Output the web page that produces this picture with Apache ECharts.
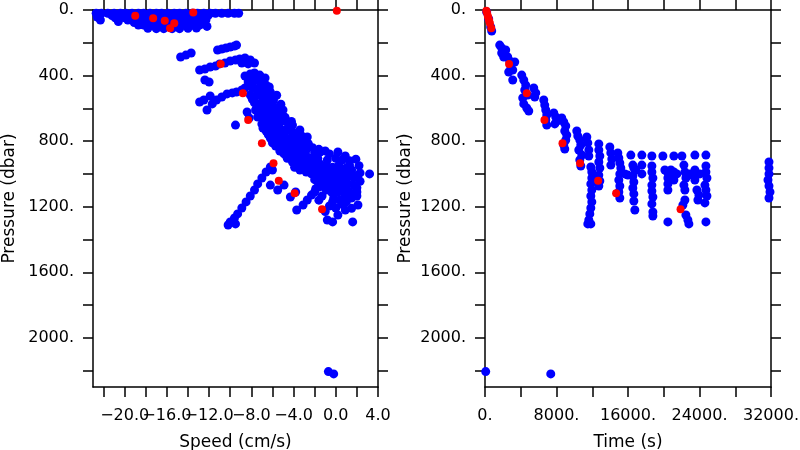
<!DOCTYPE html>
<html>
<head>
<meta charset="utf-8">
<script src="https://cdn.jsdelivr.net/npm/echarts@6/dist/echarts.min.js"></script>
<style>
html,body{margin:0;padding:0;background:#fff;}
#chart{width:800px;height:450px;}
</style>
</head>
<body>
<div id="chart"></div>
<script>
// ---------- tick / label values ----------
const speedTicks = [-22,-20,-18,-16,-14,-12,-10,-8,-6,-4,-2,0,2,4];
const speedLabels = [-20,-16,-12,-8,-4,0,4];
const pressureTicks = [0,200,400,600,800,1000,1200,1400,1600,1800,2000,2200];
const pressureLabels = [0,400,800,1200,1600,2000];
const timeTicks = [0,4000,8000,12000,16000,20000,24000,28000,32000];
const timeLabels = [0,8000,16000,24000,32000];

// ---------- left panel: [speed (cm/s), pressure (dbar)] ----------
const blueSpeedPressure = [
  // near-surface band
  [-22.7,20],[-22.2,20],[-21.6,20],[-21.0,20],[-20.4,20],[-19.9,20],[-19.3,20],[-18.7,20],[-18.2,20],[-17.6,20],
  [-17.0,20],[-16.5,20],[-15.9,20],[-15.3,20],[-14.8,20],[-14.2,20],[-13.6,20],[-13.1,20],[-12.5,20],[-11.9,20],
  [-11.4,20],[-10.8,20],[-10.2,20],[-9.6,20],[-9.2,20],
  [-21.2,34],[-20.6,34],[-20.1,34],[-19.5,34],[-18.9,34],[-18.4,34],[-17.8,34],[-17.2,34],[-16.7,34],[-16.1,34],
  [-15.5,34],[-15.0,34],[-14.4,34],[-13.8,34],[-13.2,34],[-12.7,34],[-12.1,34],
  [-20.9,47],[-20.0,47],[-19.2,47],[-18.5,47],[-17.7,47],[-16.9,47],[-16.0,47],[-15.2,47],[-14.4,47],[-13.6,47],[-12.8,47],
  [-22.3,61],[-20.6,70],[-19.7,61],[-19.1,61],[-18.6,61],[-18.0,61],[-17.4,61],[-16.8,61],[-16.3,61],[-15.7,61],
  [-15.1,61],[-14.6,61],[-14.0,61],[-13.4,61],[-12.9,61],[-12.3,61],
  [-19.1,77],[-18.4,77],[-17.6,77],[-16.8,77],[-16.0,77],[-15.2,77],[-14.4,77],[-13.6,77],[-12.7,77],
  [-18.7,92],[-18.2,92],[-17.6,92],[-17.0,92],[-16.5,92],[-15.9,92],[-15.1,92],[-14.4,92],[-13.6,92],[-12.9,92],[-12.2,100],
  [-17.8,112],[-17.0,114],[-16.3,114],[-15.5,114],[-14.8,114],[-14.0,112],[-13.2,110],
  [-22.6,43],
  // upper streaks
  [-14.7,287],[-14.2,275],[-13.7,262],
  [-11.2,244],[-10.8,238],[-10.4,232],[-10.0,226],[-9.6,220],[-9.4,214],
  [-12.9,366],[-12.4,360],[-11.9,348],[-11.4,342],[-11.0,329],[-10.5,323],[-10.0,311],[-9.5,305],[-9.1,299],[-8.6,293],
  [-8.1,305],[-7.7,323],[-8.9,323],[-8.3,329],
  [-12.4,427],[-12.0,439],
  [-12.9,561],[-12.5,549],[-12.2,610],[-11.7,573],[-11.3,549],[-10.8,531],[-10.3,512],[-9.8,506],[-9.4,500],[-8.9,488],[-11.9,525],
  [-9.5,702],[-8.4,622],[-8.2,659],
  // main cloud
  [-8.6,403],[-8.1,390],[-7.7,384],[-7.2,397],[-6.7,415],[-8.3,439],[-7.8,433],[-7.2,439],[-6.6,458],
  [-8.6,476],[-7.9,476],[-7.4,482],[-6.8,488],[-6.2,500],[-8.1,519],[-7.6,525],[-7.0,531],[-6.4,537],[-5.9,549],
  [-7.7,567],[-7.2,573],[-6.6,580],[-6.0,586],[-5.5,598],[-7.6,610],[-7.0,616],[-6.4,622],[-5.9,628],[-5.3,641],
  [-7.4,653],[-6.8,659],[-6.2,665],[-5.7,671],[-5.1,677],[-4.5,695],[-7.0,695],[-6.4,702],[-5.9,714],[-5.3,720],
  [-4.7,732],[-4.1,744],[-6.6,738],[-6.0,750],[-5.5,756],[-4.9,769],[-4.3,781],[-3.8,793],[-6.2,781],[-5.7,793],
  [-5.1,805],[-4.5,817],[-4.0,830],[-3.4,842],[-2.8,854],[-5.7,830],[-5.1,842],[-4.5,854],[-4.0,866],[-3.4,878],
  [-2.8,891],[-2.3,903],[-4.9,878],[-4.3,891],[-3.8,903],[-3.2,915],[-2.6,927],[-2.1,933],[-1.5,939],[-0.9,946],
  [-4.1,927],[-3.6,939],[-3.0,952],[-2.4,964],[-1.9,976],[-1.3,976],[-0.7,982],[-0.2,988],[0.4,976],[1.0,964],
  [1.5,976],[-3.4,976],[-2.8,988],[-2.3,1000],[-1.7,1013],[-1.1,1019],[-0.6,1025],[0.0,1025],[0.6,1025],[1.2,1013],
  [1.7,1019],[2.3,994],[3.2,1000],[-1.7,1049],[-1.1,1061],[-0.6,1061],[0.0,1074],[0.6,1074],[1.2,1061],[1.7,1068],
  [-0.9,1098],[-0.4,1110],[0.2,1110],[0.8,1098],[1.3,1110],[-1.3,1135],[-0.2,1147],[0.4,1159],[1.0,1171],[1.5,1147],
  [2.0,1135],[-0.6,1196],[0.0,1208],[0.9,1220],[2.1,1190],[-0.8,1281],[-0.3,1293],[1.6,1293],[0.2,1251],
  [-1.5,866],[-0.6,878],[0.2,866],[0.9,891],[-2.7,775],[-3.4,732],[-4.1,702],
  [-8.4,410],[-7.5,410],[-6.9,425],[-8.0,455],[-7.1,460],[-6.3,470],[-7.3,505],[-6.6,510],[-5.6,520],[-7.9,545],
  [-6.8,555],[-6.0,565],[-5.2,575],[-7.3,590],[-6.3,600],[-5.0,610],[-7.0,640],[-6.1,645],[-4.8,655],[-6.6,680],
  [-5.5,690],[-4.2,680],[-6.9,720],[-5.0,745],[-3.9,760],[-3.2,770],[-6.4,760],[-5.4,780],[-4.8,795],[-3.3,805],
  [-2.6,815],[-6.0,810],[-4.0,810],[-3.0,830],[-2.2,840],[-1.6,850],[-5.3,860],[-3.7,855],[-2.0,870],[-1.0,860],
  [-4.6,905],[-3.0,895],[-1.7,905],[-0.8,915],[0.0,905],[0.6,915],[1.3,920],[1.9,910],[-3.9,960],[-2.0,950],
  [-1.0,955],[-0.3,960],[0.3,945],[1.3,945],[2.2,950],[-1.5,995],[-0.8,1000],[-0.1,1005],[0.7,998],[1.4,995],
  [2.0,1010],[-2.0,1035],[-1.3,1040],[-0.4,1040],[0.3,1045],[0.9,1042],[2.3,1045],[-1.6,1080],[-0.3,1085],[0.3,1092],
  [2.0,1085],[-2.0,1110],[-1.6,1160],[0.9,1130],[2.0,1110],[-1.0,1230],[0.6,1185],[1.5,1210],[-0.3,1170],[-1.9,1090],
  // lower-left branch
  [-6.2,958],[-6.6,988],[-7.0,1025],[-7.4,1061],[-7.7,1098],[-8.1,1135],[-8.5,1171],[-8.9,1208],[-9.3,1244],[-9.6,1269],
  [-10.0,1293],[-10.2,1312],[-9.5,1305],[-6.0,976],
  // middle scatter
  [-6.2,1068],[-5.5,1098],[-4.9,1068],[-4.3,1141],[-3.8,1110],[-3.7,1220],[-2.7,1159],[-3.1,1190],[-2.3,1129],
  // deep outliers
  [-0.7,2206],[-0.2,2220]
];
const redSpeedPressure = [
  [-19.0,35],[-17.3,51],[-16.2,65],[-15.3,81],[-15.7,112],[-13.5,16],[0.1,4],
  [-10.9,329],[-8.8,508],[-8.3,671],[-7.0,813],[-5.9,935],[-5.4,1041],[-3.9,1118],[-1.3,1216]
];

// ---------- right panel: [time (s), pressure (dbar)] ----------
const blueTimePressure = [
  [190,12],[414,55],[638,104],[750,128],
  [1646,214],[1870,232],[1870,262],[2094,287],[2318,244],
  [2542,287],[2766,311],[2878,342],[3102,366],[2654,378],[3326,317],[3102,427],
  [4110,397],[4334,427],[4558,458],[4446,488],[4782,519],[4222,537],[4334,573],[4670,598],[4894,616],
  [5454,476],[5678,506],[5566,531],
  [6574,549],[6686,580],[6798,610],[6910,641],[6798,671],[6910,702],
  [7694,628],[7918,653],[8030,677],[7806,695],
  [8590,659],[8814,683],[9038,708],[8926,738],[9150,763],[9038,793],[8814,824],[8926,848],
  [10270,738],[10382,769],[10606,793],[10718,824],[10494,854],[10830,885],[10606,915],[10718,952],
  [11390,775],[11502,811],[11614,854],[11614,891],
  [11838,958],[11950,988],[11950,1025],[11838,1061],[11950,1098],[11838,1135],[11950,1171],[11838,1208],
  [11726,1244],[11614,1281],[11502,1305],[11838,1305],
  [12734,817],[12734,854],[12846,891],[12734,927],[12846,964],[12734,1007],[12846,1043],[12734,1074],
  [13966,836],[14078,872],[14190,909],[14078,946],
  [14862,872],[14974,903],[15086,933],[15198,964],[15086,1000],[14974,1037],[15086,1074],[14974,1110],[15086,1147],
  [15646,1000],[15982,1007],
  [16318,885],[16542,946],[16654,964],[16878,976],[16542,1013],[16654,1049],[16542,1086],[16654,1122],[16654,1165],[16766,1220],
  [17550,885],[17550,946],[17550,1000],
  [18670,891],[18670,952],[18670,988],[18782,1025],[18670,1068],[18670,1104],[18782,1141],[18670,1183],[18782,1232],[18782,1257],
  [19902,891],[20126,976],[20462,994],[20798,976],[20462,1025],[20462,1061],[20462,1098],[20462,1293],
  [21134,891],[21134,988],[21134,1037],[21470,1000],
  [22030,891],[22254,946],[22366,988],[22478,1025],[22254,1068],[22366,1098],[22366,1159],[22142,1190],[22478,1251],
  [22702,1281],[22814,1305],[22926,1000],
  [23486,885],[23486,976],[23262,1007],[23486,1037],[23710,1098],[23934,1129],[23822,1159],[24046,1000],
  [24718,885],[24718,952],[24718,988],[24830,1025],[24606,1068],[24718,1098],[24830,1135],[24606,1177],[24718,1293],
  [31774,927],[31774,964],[31774,1000],[31662,1037],[31774,1074],[31886,1110],[31774,1147],
  [78,2206],[7358,2220]
];
const redTimePressure = [
  [150,4],[210,16],[310,35],[390,51],[460,65],[550,81],[700,112],
  [2690,329],[4670,508],[6650,671],[8670,813],[10640,935],[12660,1041],[14670,1118],[21880,1216]
];

// ---------- chart ----------
const FONT = 'DejaVu Sans';
const lineStyle = {color:'#000', width:1.5};
function fmtSpeed(v){ return (v < 0 ? '\u2212' : '') + Math.abs(v).toFixed(1); }
function fmtDot(v){ return String(v) + '.'; }

function xAxes(gridIndex, min, max, ticks, name){
  return [
    {type:'value', gridIndex, position:'bottom', min, max,
     name, nameLocation:'middle', nameGap:47,
     nameTextStyle:{fontFamily:FONT, fontSize:17, color:'#000'},
     axisLine:{show:true, onZero:false, lineStyle},
     axisTick:{show:true, inside:false, length:10, lineStyle, customValues:ticks},
     axisLabel:{show:false},
     splitLine:{show:false}},
    {type:'value', gridIndex, position:'top', min, max,
     axisLine:{show:true, onZero:false, lineStyle},
     axisTick:{show:true, inside:false, length:10, lineStyle, customValues:ticks},
     axisLabel:{show:false},
     splitLine:{show:false}}
  ];
}
function yAxes(gridIndex, gap){
  return [
    {type:'value', gridIndex, position:'left', inverse:true, min:0, max:2300,
     name:'Pressure (dbar)', nameLocation:'middle', nameGap:gap,
     nameTextStyle:{fontFamily:FONT, fontSize:17, color:'#000'},
     axisLine:{show:true, onZero:false, lineStyle},
     axisTick:{show:true, inside:false, length:10, lineStyle, customValues:pressureTicks},
     axisLabel:{show:false},
     splitLine:{show:false}},
    {type:'value', gridIndex, position:'right', inverse:true, min:0, max:2300,
     axisLine:{show:true, onZero:false, lineStyle},
     axisTick:{show:true, inside:false, length:10, lineStyle, customValues:pressureTicks},
     axisLabel:{show:false},
     splitLine:{show:false}}
  ];
}

const chart = echarts.init(document.getElementById('chart'), null, {renderer:'canvas'});
chart.setOption({
  animation:false,
  backgroundColor:'#fff',
  grid:[
    {left:93, right:422, top:10, bottom:63, containLabel:false, outerBoundsMode:'none'},
    {left:485, right:29, top:10, bottom:63, containLabel:false, outerBoundsMode:'none'}
  ],
  xAxis:[].concat(
    xAxes(0, -23, 4, speedTicks, 'Speed (cm/s)'),
    xAxes(1, 0, 32000, timeTicks, 'Time (s)')
  ),
  yAxis:[].concat(yAxes(0, 75), yAxes(1, 71)),
  series:[
    {type:'scatter', xAxisIndex:0, yAxisIndex:0, data:blueSpeedPressure, symbolSize:9, itemStyle:{color:'#0000ff', opacity:1}, z:2},
    {type:'scatter', xAxisIndex:0, yAxisIndex:0, data:redSpeedPressure, symbolSize:8, itemStyle:{color:'#ff0000', opacity:1}, z:3},
    {type:'scatter', xAxisIndex:2, yAxisIndex:2, data:blueTimePressure, symbolSize:9, itemStyle:{color:'#0000ff', opacity:1}, z:2},
    {type:'scatter', xAxisIndex:2, yAxisIndex:2, data:redTimePressure, symbolSize:8, itemStyle:{color:'#ff0000', opacity:1}, z:3}
  ]
});

// ---------- tick labels placed through the axes' own scales ----------
const labelStyle = {fontFamily:FONT, fontSize:16, fill:'#000'};
const graphics = [];
function addXLabels(xAxisIndex, yAxisIndex, values, fmt){
  const yBottom = chart.convertToPixel({yAxisIndex}, 2300);
  values.forEach(v => {
    const x = chart.convertToPixel({xAxisIndex}, v);
    graphics.push({type:'text', x, y:yBottom + 21, silent:true,
      style:Object.assign({text:fmt(v), textAlign:'center', textVerticalAlign:'top'}, labelStyle)});
  });
}
function addYLabels(xAxisIndex, yAxisIndex, xMin, values){
  const xLeft = chart.convertToPixel({xAxisIndex}, xMin);
  values.forEach(v => {
    const y = chart.convertToPixel({yAxisIndex}, v);
    graphics.push({type:'text', x:xLeft - 19, y, silent:true,
      style:Object.assign({text:fmtDot(v), textAlign:'right', textVerticalAlign:'middle'}, labelStyle)});
  });
}
addXLabels(0, 0, speedLabels, fmtSpeed);
addXLabels(2, 2, timeLabels, fmtDot);
addYLabels(0, 0, -23, pressureLabels);
addYLabels(2, 2, 0, pressureLabels);
chart.setOption({graphic:graphics});
</script>
</body>
</html>
